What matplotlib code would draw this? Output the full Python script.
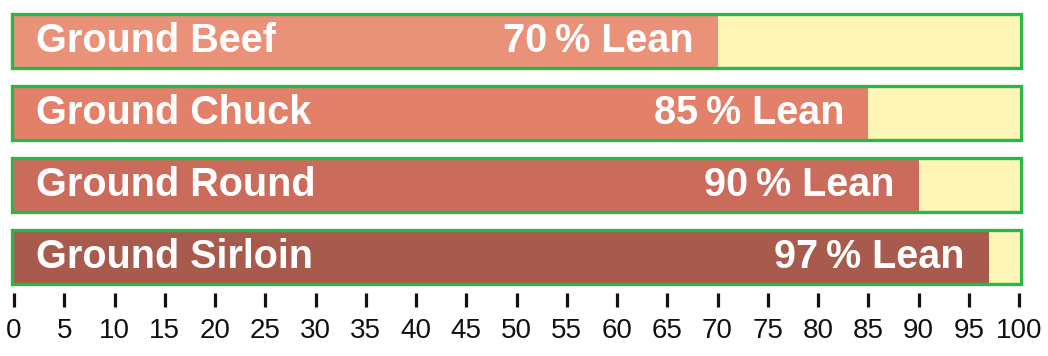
import matplotlib.pyplot as plt

plt.rcParams["font.family"] = ["Liberation Sans", "DejaVu Sans"]

cuts = ["Ground Beef", "Ground Chuck", "Ground Round", "Ground Sirloin"]
lean_pct = [70, 85, 90, 97]
fill_colors = ["#EA9179", "#E2806A", "#CB6B5C", "#A85B4D"]
ticks = list(range(0, 101, 5))

W, H = 1048, 356
fig = plt.figure(figsize=(W / 100, H / 100), dpi=100)
# axes spans the bar area; x runs 0..100 across the ticks
ax = fig.add_axes([14 / W, (H - 293) / H, 1005 / W, 285 / H])
row = 72.3
ax.set_xlim(0, 100)
ax.set_ylim((293 - 40.5) / row, (8 - 40.5) / row)

bar_h = 54 / row
for i, (name, pct, col) in enumerate(zip(cuts, lean_pct, fill_colors)):
    ax.barh(i, 100, height=bar_h, color="#FDF6B6", edgecolor="none", zorder=1)
    ax.barh(i, pct, height=bar_h, color=col, edgecolor="none", zorder=2)
    ax.barh(i, 100.4, left=-0.2, height=bar_h, color="none", edgecolor="#2EB54A",
            linewidth=2.4, zorder=3, clip_on=False)
    ax.text(2.2, i, name, color="white", fontsize=28.5, fontweight="bold",
            ha="left", va="center", zorder=4)
    ax.text(pct - 2.4, i, f"{pct}\u2009% Lean", color="white", fontsize=28.5,
            fontweight="bold", ha="right", va="center", zorder=4)

for s in ax.spines.values():
    s.set_visible(False)
ax.set_yticks([])
ax.set_xticks(ticks)
ax.set_xticklabels([str(t) for t in ticks], fontsize=20, color="#111111")
ax.tick_params(axis="x", direction="out", length=10, width=2.3, color="#111111", pad=8)
ax.set_facecolor("none")

fig.savefig("out.png", dpi=100, facecolor="white")
